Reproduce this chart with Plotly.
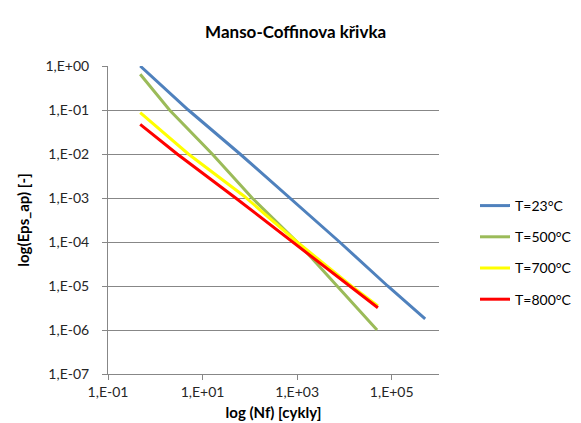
import plotly.graph_objects as go

# Data (log-log Manson-Coffin curves)
n_23 = [0.48, 5.0, 62, 690, 7900, 82000, 510000]
eps_23 = [1.0, 0.1, 0.01, 1e-3, 1e-4, 1e-5, 1.8e-6]

n_500 = [0.48, 2.0, 16, 112, 1000, 7100, 49000]
eps_500 = [0.65, 0.1, 0.01, 1e-3, 1e-4, 1e-5, 1.0e-6]

n_700 = [0.48, 5.0, 76, 1000, 14000, 51000]
eps_700 = [0.087, 0.01, 1.1e-3, 1e-4, 1e-5, 3.5e-6]

n_800 = [0.48, 2.9, 50, 800, 13300, 51000]
eps_800 = [0.047, 0.01, 1e-3, 1e-4, 1e-5, 3.2e-6]

series_names = ["T=23°C", "T=500°C", "T=700°C", "T=800°C"]
series_colors = ["#4F81BD", "#9BBB59", "#FFFF00", "#FF0000"]

x_tickvals = [0.1, 10, 1000, 100000]
x_ticktext = ["1,E-01", "1,E+01", "1,E+03", "1,E+05"]
y_tickvals = [1, 1e-1, 1e-2, 1e-3, 1e-4, 1e-5, 1e-6, 1e-7]
y_ticktext = ["1,E+00", "1,E-01", "1,E-02", "1,E-03", "1,E-04", "1,E-05", "1,E-06", "1,E-07"]

FONT = "Lato, Open Sans, sans-serif"
GRID = "#878787"

fig = go.Figure()
for i, (xs, ys) in enumerate([(n_23, eps_23), (n_500, eps_500), (n_700, eps_700), (n_800, eps_800)]):
    fig.add_trace(go.Scatter(
        x=xs, y=ys, mode="lines", name=series_names[i],
        line=dict(color=series_colors[i], width=3),
        legendgroup=str(i),
    ))

fig.update_layout(
    width=581, height=423,
    margin=dict(l=100, r=150, t=58, b=57, autoexpand=False),
    paper_bgcolor="white", plot_bgcolor="white",
    font=dict(family=FONT, color="#262626", size=14),
    title=dict(text="<b>Manso-Coffinova křivka</b>", x=0.495, xanchor="center",
               y=1 - 24 / 423, yanchor="middle", font=dict(size=17, color="#000000")),
    showlegend=True,
    legend=dict(x=1 + (467 - 431) / 331, xanchor="left", y=(423 - 57 - 182) / 308,
                yanchor="top", font=dict(size=14, color="#000000"),
                tracegroupgap=10, bgcolor="rgba(0,0,0,0)", itemwidth=30),
)

fig.update_xaxes(
    type="log", range=[-1, 6], automargin=False,
    tickvals=x_tickvals, ticktext=x_ticktext,
    showgrid=False, showline=True, linecolor=GRID, linewidth=1,
    ticks="outside", ticklen=5, tickcolor=GRID,
    tickfont=dict(size=14, color="#262626"),
    zeroline=False,
    title=dict(text="<b>log (Nf) [cykly]</b>", font=dict(size=15, color="#000000"), standoff=8),
)
fig.update_yaxes(
    type="log", range=[-7, 0], automargin=False,
    tickvals=y_tickvals, ticktext=y_ticktext,
    showgrid=True, gridcolor=GRID, gridwidth=1,
    showline=True, linecolor=GRID, linewidth=1,
    ticks="outside", ticklen=5, tickcolor=GRID,
    ticklabelstandoff=10,
    tickfont=dict(size=14, color="#262626"),
    zeroline=False,
    title=dict(text="<b>log(Eps_ap) [-]</b>", font=dict(size=15, color="#000000"), standoff=12),
)

fig.write_html("out.html")
